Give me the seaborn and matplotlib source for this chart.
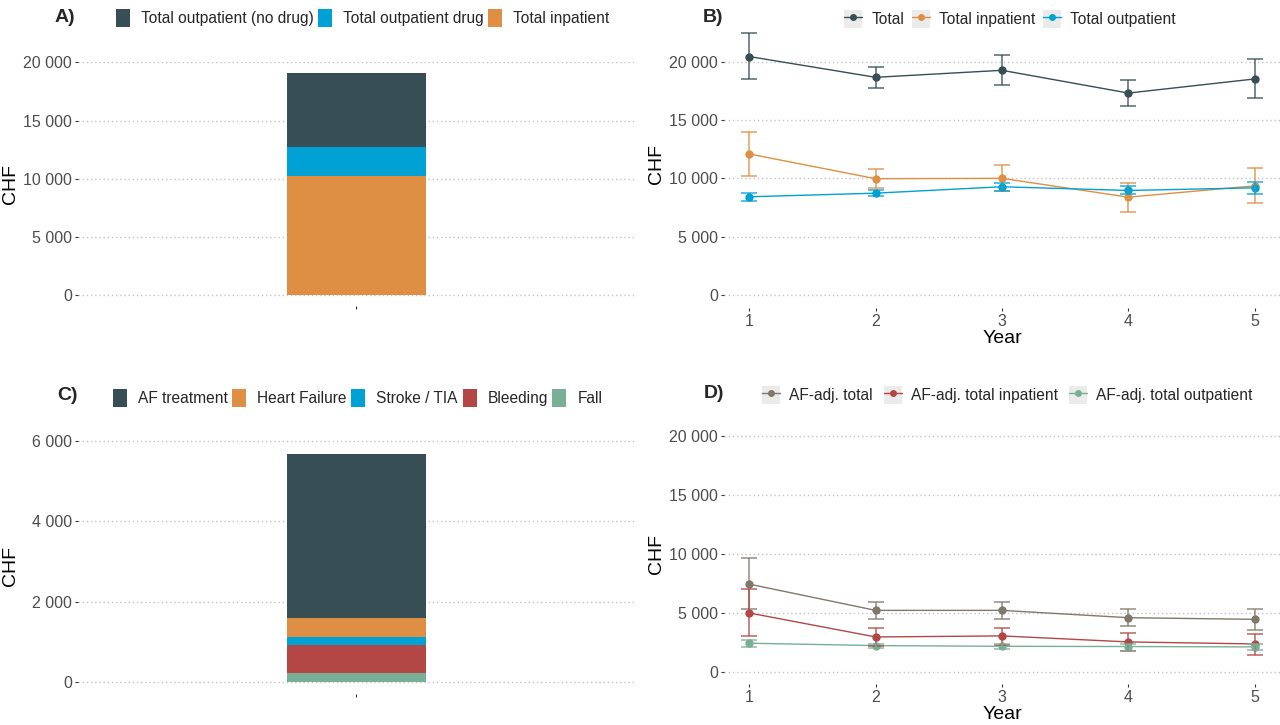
import numpy as np
import pandas as pd
import seaborn as sns
import matplotlib.pyplot as plt
from matplotlib.ticker import FuncFormatter
from matplotlib.patches import Patch, Rectangle
from matplotlib.lines import Line2D
from matplotlib.legend_handler import HandlerLine2D

# ---- data ----
# panel A: stacked costs (top -> bottom of the stack)
a_labels = ["Total outpatient (no drug)", "Total outpatient drug", "Total inpatient"]
a_values = [6320, 2500, 10260]
a_colors = ["#374E55", "#00A1D5", "#DF8F44"]

# panel C: AF-adjusted costs by cause (top -> bottom)
c_labels = ["AF treatment", "Heart Failure", "Stroke / TIA", "Bleeding", "Fall"]
c_values = [4075, 480, 190, 695, 230]
c_colors = ["#374E55", "#DF8F44", "#00A1D5", "#B24745", "#79AF97"]

years = [1, 2, 3, 4, 5]

# panel B
b_labels = ["Total", "Total inpatient", "Total outpatient"]
b_colors = ["#374E55", "#DF8F44", "#00A1D5"]
total = [20430, 18650, 19250, 17300, 18510]
total_lo = [18510, 17730, 17960, 16210, 16840]
total_hi = [22440, 19540, 20540, 18420, 20230]
inpat = [12080, 9960, 9990, 8380, 9350]
inpat_lo = [10215, 9125, 8920, 7145, 7920]
inpat_hi = [13945, 10790, 11130, 9610, 10850]
outpat = [8410, 8720, 9270, 8950, 9180]
outpat_lo = [8090, 8465, 8920, 8610, 8640]
outpat_hi = [8720, 8950, 9580, 9300, 9670]

# panel D
d_labels = ["AF-adj. total", "AF-adj. total inpatient", "AF-adj. total outpatient"]
d_colors = ["#80796B", "#B24745", "#79AF97"]
af_total = [7450, 5230, 5230, 4610, 4470]
af_total_lo = [5345, 4470, 4470, 3880, 3600]
af_total_hi = [9620, 5935, 5935, 5370, 5345]
af_inpat = [5010, 2980, 3070, 2560, 2390]
af_inpat_lo = [3070, 2220, 2335, 1770, 1490]
af_inpat_hi = [7030, 3740, 3740, 3320, 3260]
af_outpat = [2450, 2250, 2190, 2170, 2140]
af_outpat_lo = [2170, 2080, 1970, 1830, 1860]
af_outpat_hi = [2700, 2420, 2420, 2360, 2420]

sns.set_style("white")
plt.rcParams["font.family"] = ["Liberation Sans", "DejaVu Sans"]

W, H = 1280, 725
fig = plt.figure(figsize=(12.8, 7.25), dpi=100)


def px_axes(left, right, top, bottom):
    return fig.add_axes([left / W, 1 - bottom / H, (right - left) / W, (bottom - top) / H])


fmt = FuncFormatter(lambda v, p: f"{v:,.0f}".replace(",", " "))


def style(ax, label_x):
    for s in ax.spines.values():
        s.set_visible(False)
    ax.yaxis.grid(True, color="#C4C4C4", linestyle=(0, (1, 2)), linewidth=1.0)
    ax.xaxis.grid(False)
    ax.set_axisbelow(True)
    ax.tick_params(axis="both", length=2.3, width=0.8, color="#333333",
                   labelcolor="#4D4D4D", labelsize=11.5, pad=2, left=True, bottom=True)
    ax.yaxis.set_major_formatter(fmt)
    ax.set_ylabel("CHF", fontsize=14, color="black")
    # anchor is the right edge of the rotated label
    ax.yaxis.set_label_coords(label_x, 0.5)


def stacked_bar(ax, labels, values, colors):
    # cumulative tops, largest first so smaller layers sit on top
    tops = np.cumsum(values[::-1])[::-1]
    for lab, top, col in zip(labels, tops, colors):
        sns.barplot(x=[""], y=[top], color=col, width=0.3, saturation=1,
                    linewidth=0, ax=ax)
    ax.set_xlim(-0.6, 0.6)
    ax.set_xlabel("")


def lines(ax, series, colors):
    rows = []
    for name, (m, lo, hi) in series.items():
        for y, v in zip(years, m):
            rows.append({"Year": y, "CHF": v, "series": name})
    df = pd.DataFrame(rows)
    sns.lineplot(data=df, x="Year", y="CHF", hue="series", palette=colors,
                 hue_order=list(series.keys()), marker="o", markersize=6,
                 markeredgewidth=0, linewidth=1.0, errorbar=None, legend=False, ax=ax)
    for (name, (m, lo, hi)), col in zip(series.items(), colors):
        m = np.array(m)
        ax.errorbar(years, m, yerr=[m - np.array(lo), np.array(hi) - m], fmt="none",
                    ecolor=col, elinewidth=1.1, capsize=6, capthick=1.1, alpha=0.85)
    ax.set_xlim(0.8, 5.2)
    ax.set_xticks(years)
    ax.set_xlabel("Year", fontsize=14, color="black", labelpad=1)


class KeyBox(HandlerLine2D):
    def create_artists(self, legend, orig_handle, xdescent, ydescent, width, height, fontsize, trans):
        arts = super().create_artists(legend, orig_handle, xdescent, ydescent,
                                      width, height, fontsize, trans)
        bg = Rectangle((-xdescent, -ydescent), width, height, facecolor="#EBEBEB",
                       edgecolor="none", transform=trans)
        return [bg] + list(arts)


def bar_legend(labels, colors, x, y):
    handles = [Patch(facecolor=c, edgecolor="none") for c in colors]
    fig.legend(handles, labels, ncol=len(labels), loc="center left",
               bbox_to_anchor=(x / W, 1 - y / H), frameon=False, fontsize=11.2,
               handlelength=0.9, handleheight=1.35, handletextpad=0.7,
               columnspacing=0.3, borderpad=0, borderaxespad=0)


def line_legend(labels, colors, x, y, colsp):
    handles = [Line2D([], [], color=c, marker="o", markersize=4, linewidth=1.0) for c in colors]
    fig.legend(handles, labels, ncol=len(labels), loc="center left",
               bbox_to_anchor=(x / W, 1 - y / H), frameon=False, fontsize=11.2,
               handlelength=1.15, handleheight=1.45, handletextpad=0.6,
               columnspacing=colsp, borderpad=0, borderaxespad=0,
               handler_map={Line2D: KeyBox()})


# ---- panel A ----
axA = px_axes(78, 634, 62, 306)
stacked_bar(axA, a_labels, a_values, a_colors)
axA.set_ylim(-954, 20034)
axA.set_yticks([0, 5000, 10000, 15000, 20000])
style(axA, (19 - 78) / 556)

# ---- panel B ----
axB = px_axes(724, 1280, 20, 308)
lines(axB, {"Total": (total, total_lo, total_hi),
            "Total inpatient": (inpat, inpat_lo, inpat_hi),
            "Total outpatient": (outpat, outpat_lo, outpat_hi)}, b_colors)
axB.set_ylim(-1122, 23562)
axB.set_yticks([0, 5000, 10000, 15000, 20000])
style(axB, (665 - 724) / 556)

# ---- panel C ----
axC = px_axes(78, 634, 437, 694)
stacked_bar(axC, c_labels, c_values, c_colors)
axC.set_ylim(-290, 6100)
axC.set_yticks([0, 2000, 4000, 6000])
style(axC, (19 - 78) / 556)

# ---- panel D ----
axD = px_axes(724, 1280, 424, 684)
lines(axD, {"AF-adj. total": (af_total, af_total_lo, af_total_hi),
            "AF-adj. total inpatient": (af_inpat, af_inpat_lo, af_inpat_hi),
            "AF-adj. total outpatient": (af_outpat, af_outpat_lo, af_outpat_hi)}, d_colors)
axD.set_ylim(-1000, 21000)
axD.set_yticks([0, 5000, 10000, 15000, 20000])
style(axD, (665 - 724) / 556)

# ---- legends and panel tags ----
bar_legend(a_labels, a_colors, 116, 18)
line_legend(b_labels, b_colors, 844, 19, 0.5)
bar_legend(c_labels, c_colors, 113, 398)
line_legend(d_labels, d_colors, 762, 395, 0.7)

for tag, x, y in [("A)", 55, 17), ("B)", 703, 17), ("C)", 57, 395), ("D)", 704, 393)]:
    fig.text(x / W, 1 - y / H, tag, fontsize=14, fontweight="bold", va="center", ha="left")

fig.savefig("out.png", dpi=100)
